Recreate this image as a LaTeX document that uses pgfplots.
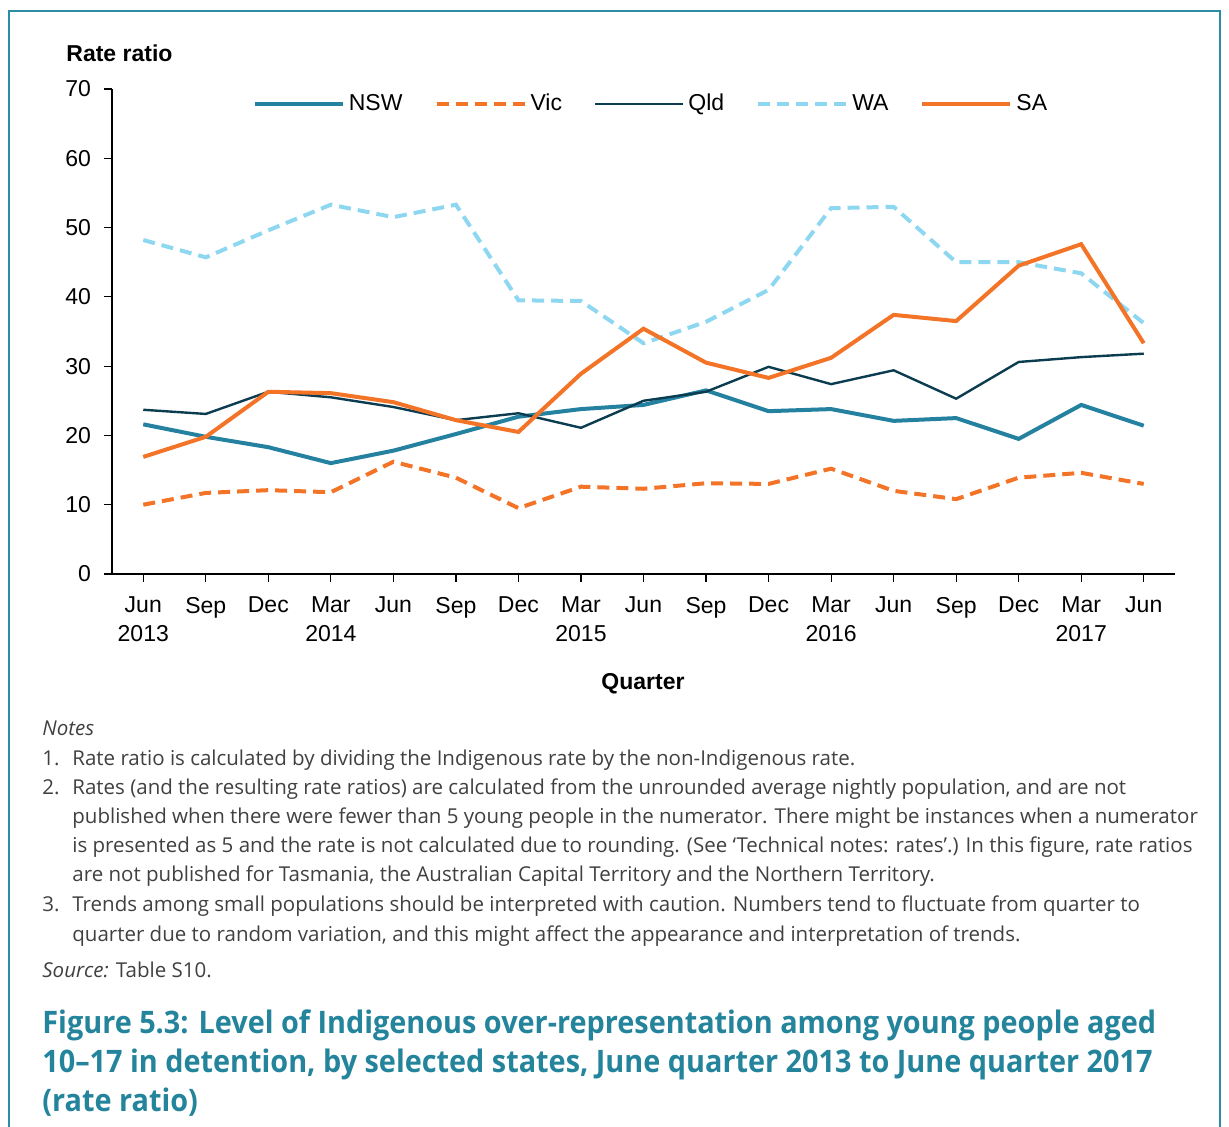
\documentclass[border=0pt]{standalone}
\usepackage{pgfplots}
\pgfplotsset{compat=1.18}
\usepackage{pgfplotstable}
\usepackage{graphicx}
\usepackage{fontspec}
\setmainfont{Liberation Sans}
\newfontfamily\notefont{Open Sans}
\definecolor{nswc}{HTML}{2581A0}
\definecolor{qldc}{HTML}{0B3C4F}
\definecolor{wac}{HTML}{8DD7F1}
\definecolor{orc}{HTML}{F37327}
\definecolor{capc}{HTML}{23849C}
\definecolor{framec}{HTML}{2C8BA5}
\definecolor{notec}{HTML}{404040}
\pgfplotstableread{
x nsw vic qld wa sa
0 21.6 10.0 23.7 48.2 16.9
1 19.8 11.7 23.1 45.7 19.8
2 18.3 12.1 26.3 49.6 26.3
3 16.0 11.8 25.5 53.3 26.1
4 17.8 16.2 24.1 51.5 24.8
5 20.2 13.9 22.2 53.3 22.2
6 22.7 9.5 23.2 39.5 20.5
7 23.8 12.6 21.1 39.4 28.9
8 24.4 12.3 25.0 33.3 35.4
9 26.5 13.1 26.3 36.4 30.5
10 23.5 13.0 29.9 41.0 28.3
11 23.8 15.2 27.4 52.8 31.2
12 22.1 12.0 29.4 53.0 37.4
13 22.5 10.8 25.3 45.0 36.5
14 19.5 13.9 30.6 45.0 44.5
15 24.4 14.6 31.3 43.4 47.6
16 21.4 13.0 31.8 36.2 33.3
}\datatable
\begin{document}
\begin{tikzpicture}
\path[use as bounding box] (0,0) rectangle (614.5pt,563.5pt);
\begin{axis}[
  scale only axis,
  width=531.5pt, height=242.5pt,
  at={(56pt,276.5pt)}, anchor=south west,
  xmin=-0.5, xmax=16.5, ymin=0, ymax=70,
  axis x line=bottom, axis y line=left,
  axis line style={-, line width=0.6pt, black},
  tick align=outside, major tick length=4pt,
  tick style={black, line width=0.6pt},
  xtick={0,...,16}, ytick={0,10,...,70},
  xticklabels={{Jun\\2013},Sep,Dec,{Mar\\2014},Jun,Sep,Dec,{Mar\\2015},Jun,Sep,Dec,{Mar\\2016},Jun,Sep,Dec,{Mar\\2017},Jun},
  ticklabel style={font=\fontsize{11.5}{14.5}\selectfont},
  xticklabel style={align=center, anchor=north, yshift=-4pt},
  yticklabel style={anchor=east, xshift=-3pt},
  /pgf/number format/assume math mode=true,
  legend columns=5,
  legend style={draw=none, fill=none, at={(0.508,0.969)}, anchor=center,
    font=\fontsize{11.5}{14}\selectfont,
    /tikz/every even column/.append style={column sep=14pt}},
  legend image code/.code={\draw[#1,line cap=butt] (0pt,0pt) -- (44pt,0pt);},
]
\addplot[nswc, line width=2pt] table[x=x,y=nsw]{\datatable};
\addlegendentry{NSW}
\addplot[orc, line width=2pt, dash pattern=on 6pt off 3.5pt] table[x=x,y=vic]{\datatable};
\addlegendentry{Vic}
\addplot[qldc, line width=1.2pt] table[x=x,y=qld]{\datatable};
\addlegendentry{Qld}
\addplot[wac, line width=2pt, dash pattern=on 6pt off 3.5pt] table[x=x,y=wa]{\datatable};
\addlegendentry{WA}
\addplot[orc, line width=2pt] table[x=x,y=sa]{\datatable};
\addlegendentry{SA}
\end{axis}
\begin{scope}[x=0.5pt,y=-0.5pt,yshift=563.5pt]
\draw[framec, line width=1.2pt] (9,1127) -- (9,11) -- (1220,11) -- (1220,1127);
\node[anchor=west, inner sep=0pt, font=\fontsize{11.5}{14}\selectfont\bfseries] at (66,53) {Rate ratio};
\node[anchor=center, inner sep=0pt, font=\fontsize{11.5}{14}\selectfont\bfseries] at (643,684) {Quarter};
\begin{scope}[every node/.style={anchor=base west, inner sep=0pt, text=notec, font=\notefont\fontsize{10.25}{12}\selectfont}]
\node at (42,736) {\itshape Notes};
\node at (42,766) {1.};
\node at (72,766) {Rate ratio is calculated by dividing the Indigenous rate by the non-Indigenous rate.};
\node at (42,795) {2.};
\node at (72,795) {Rates (and the resulting rate ratios) are calculated from the unrounded average nightly population, and are not};
\node at (72,824) {published when there were fewer than 5 young people in the numerator. There might be instances when a numerator};
\node at (72,853) {is presented as 5 and the rate is not calculated due to rounding. (See ‘Technical notes: rates’.) In this figure, rate ratios};
\node at (72,882) {are not published for Tasmania, the Australian Capital Territory and the Northern Territory.};
\node at (42,912) {3.};
\node at (72,912) {Trends among small populations should be interpreted with caution. Numbers tend to fluctuate from quarter to};
\node at (72,942) {quarter due to random variation, and this might affect the appearance and interpretation of trends.};
\node at (42,978) {{\itshape Source:} Table S10.};
\end{scope}
\begin{scope}[every node/.style={anchor=base west, inner sep=0pt, text=capc, font=\notefont\bfseries\fontsize{15.5}{18}\selectfont}]
\node at (42,1034) {\scalebox{0.93}[1]{Figure 5.3: Level of Indigenous over-representation among young people aged}};
\node at (42,1073) {\scalebox{0.93}[1]{10–17 in detention, by selected states, June quarter 2013 to June quarter 2017}};
\node at (42,1112) {\scalebox{0.93}[1]{(rate ratio)}};
\end{scope}
\end{scope}
\end{tikzpicture}
\end{document}
